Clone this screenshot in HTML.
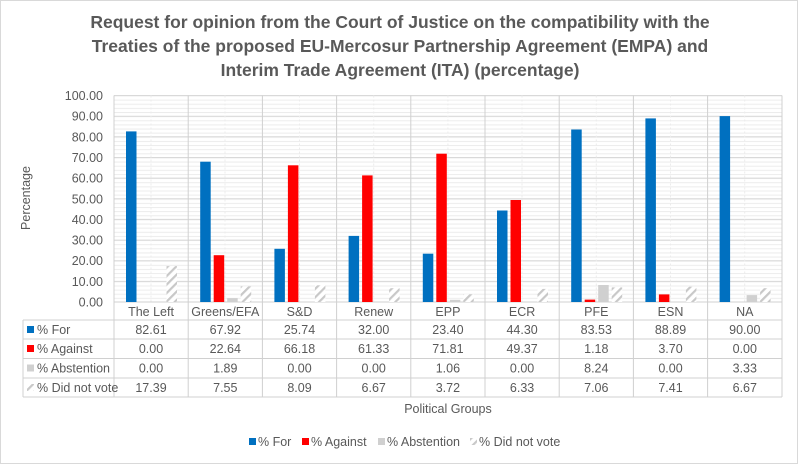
<!DOCTYPE html>
<html><head><meta charset="utf-8"><style>
html,body{margin:0;padding:0;background:#fff}
svg{display:block;font-family:"Liberation Sans",sans-serif}
</style></head><body>
<svg width="798" height="464" viewBox="0 0 798 464" xmlns="http://www.w3.org/2000/svg">
<defs>
<pattern id="h" width="6" height="6" patternUnits="userSpaceOnUse" patternTransform="rotate(45)">
<rect width="6" height="6" fill="#fff"/><rect width="2.2" height="6" fill="#c8c8c8"/>
</pattern>
<pattern id="minor" width="10" height="4.13" patternUnits="userSpaceOnUse" y="95.5">
<line x1="0" y1="0.5" x2="10" y2="0.5" stroke="#ececec" stroke-width="1"/>
</pattern>
</defs>
<rect x="0.5" y="0.5" width="797" height="463" fill="#fff" stroke="#d9d9d9"/>
<g font-weight="bold" font-size="17.5" fill="#595959" text-anchor="middle">
<text x="400" y="28">Request for opinion from the Court of Justice on the compatibility with the</text>
<text x="400" y="52">Treaties of the proposed EU-Mercosur Partnership Agreement (EMPA) and</text>
<text x="400" y="76">Interim Trade Agreement (ITA) (percentage)</text>
</g>
<rect x="114" y="95.5" width="668" height="206.5" fill="url(#minor)"/>
<g stroke="#d9d9d9" stroke-width="1">
<line x1="114" y1="95.5" x2="782" y2="95.5"/>
<line x1="114" y1="116.2" x2="782" y2="116.2"/>
<line x1="114" y1="136.8" x2="782" y2="136.8"/>
<line x1="114" y1="157.5" x2="782" y2="157.5"/>
<line x1="114" y1="178.1" x2="782" y2="178.1"/>
<line x1="114" y1="198.8" x2="782" y2="198.8"/>
<line x1="114" y1="219.4" x2="782" y2="219.4"/>
<line x1="114" y1="240.1" x2="782" y2="240.1"/>
<line x1="114" y1="260.7" x2="782" y2="260.7"/>
<line x1="114" y1="281.4" x2="782" y2="281.4"/>
</g>
<g stroke="#ececec" stroke-dasharray="2,2">
<line x1="151" y1="95.5" x2="151" y2="302"/><line x1="225" y1="95.5" x2="225" y2="302"/>
<line x1="299.5" y1="95.5" x2="299.5" y2="302"/><line x1="373.7" y1="95.5" x2="373.7" y2="302"/>
<line x1="447.9" y1="95.5" x2="447.9" y2="302"/><line x1="522" y1="95.5" x2="522" y2="302"/>
<line x1="596.3" y1="95.5" x2="596.3" y2="302"/><line x1="670.5" y1="95.5" x2="670.5" y2="302"/>
<line x1="744.7" y1="95.5" x2="744.7" y2="302"/>
</g>
<!-- table grid -->
<g stroke="#d0d0d0" stroke-width="1" fill="none">
<line x1="114" y1="95.5" x2="114" y2="397"/>
<line x1="188.2" y1="95.5" x2="188.2" y2="397"/>
<line x1="262.4" y1="95.5" x2="262.4" y2="397"/>
<line x1="336.6" y1="95.5" x2="336.6" y2="397"/>
<line x1="410.8" y1="95.5" x2="410.8" y2="397"/>
<line x1="485" y1="95.5" x2="485" y2="397"/>
<line x1="559.2" y1="95.5" x2="559.2" y2="397"/>
<line x1="633.4" y1="95.5" x2="633.4" y2="397"/>
<line x1="707.6" y1="95.5" x2="707.6" y2="397"/>
<line x1="782" y1="95.5" x2="782" y2="397"/>
<line x1="23" y1="320" x2="23" y2="397"/>
<line x1="114" y1="302" x2="782" y2="302"/>
<line x1="23" y1="320" x2="782" y2="320"/>
<line x1="23" y1="339" x2="782" y2="339"/>
<line x1="23" y1="358.5" x2="782" y2="358.5"/>
<line x1="23" y1="378" x2="782" y2="378"/>
<line x1="23" y1="397" x2="782" y2="397"/>
</g>
<!-- bars -->
<g fill="#0070c0">
<rect x="126" y="131.4" width="10.5" height="170.6"/>
<rect x="200.2" y="161.7" width="10.5" height="140.3"/>
<rect x="274.4" y="248.8" width="10.5" height="53.2"/>
<rect x="348.6" y="235.9" width="10.5" height="66.1"/>
<rect x="422.8" y="253.7" width="10.5" height="48.3"/>
<rect x="497" y="210.5" width="10.5" height="91.5"/>
<rect x="571.2" y="129.5" width="10.5" height="172.5"/>
<rect x="645.4" y="118.4" width="10.5" height="183.6"/>
<rect x="719.6" y="116.1" width="10.5" height="185.9"/>
</g>
<g fill="#ff0000">
<rect x="213.7" y="255.2" width="10.5" height="46.8"/>
<rect x="287.9" y="165.3" width="10.5" height="136.7"/>
<rect x="362.1" y="175.4" width="10.5" height="126.6"/>
<rect x="436.3" y="153.7" width="10.5" height="148.3"/>
<rect x="510.5" y="200" width="10.5" height="102"/>
<rect x="584.7" y="299.6" width="10.5" height="2.4"/>
<rect x="658.9" y="294.4" width="10.5" height="7.6"/>
</g>
<g fill="#d0d0d0">
<rect x="227.2" y="298.1" width="10.5" height="3.9"/>
<rect x="449.8" y="299.8" width="10.5" height="2.2"/>
<rect x="598.2" y="285" width="10.5" height="17"/>
<rect x="746.6" y="295.1" width="10.5" height="6.9"/>
</g>
<g fill="url(#h)">
<rect x="166.5" y="266.1" width="10.5" height="35.9"/>
<rect x="240.7" y="286.4" width="10.5" height="15.6"/>
<rect x="314.9" y="285.3" width="10.5" height="16.7"/>
<rect x="389.1" y="288.2" width="10.5" height="13.8"/>
<rect x="463.3" y="294.3" width="10.5" height="7.7"/>
<rect x="537.5" y="288.9" width="10.5" height="13.1"/>
<rect x="611.7" y="287.4" width="10.5" height="14.6"/>
<rect x="685.9" y="286.7" width="10.5" height="15.3"/>
<rect x="760.1" y="288.2" width="10.5" height="13.8"/>
</g>
<!-- y ticks -->
<g font-size="12.5" fill="#595959" text-anchor="end">
<text x="103" y="100">100.00</text><text x="103" y="120.7">90.00</text>
<text x="103" y="141.3">80.00</text><text x="103" y="162">70.00</text>
<text x="103" y="182.6">60.00</text><text x="103" y="203.3">50.00</text>
<text x="103" y="223.9">40.00</text><text x="103" y="244.6">30.00</text>
<text x="103" y="265.2">20.00</text><text x="103" y="285.9">10.00</text>
<text x="103" y="306.5">0.00</text>
</g>
<text transform="translate(30,198) rotate(-90)" font-size="12.5" fill="#595959" text-anchor="middle">Percentage</text>
<!-- table text -->
<g font-size="12.5" fill="#595959" text-anchor="middle">
<text x="151" y="316">The Left</text><text x="225.3" y="316">Greens/EFA</text><text x="299.5" y="316">S&amp;D</text><text x="373.7" y="316">Renew</text><text x="447.9" y="316">EPP</text><text x="522.1" y="316">ECR</text><text x="596.3" y="316">PFE</text><text x="670.5" y="316">ESN</text><text x="744.8" y="316">NA</text>
<text x="151" y="334">82.61</text><text x="225.3" y="334">67.92</text><text x="299.5" y="334">25.74</text><text x="373.7" y="334">32.00</text><text x="447.9" y="334">23.40</text><text x="522.1" y="334">44.30</text><text x="596.3" y="334">83.53</text><text x="670.5" y="334">88.89</text><text x="744.8" y="334">90.00</text>
<text x="151" y="353">0.00</text><text x="225.3" y="353">22.64</text><text x="299.5" y="353">66.18</text><text x="373.7" y="353">61.33</text><text x="447.9" y="353">71.81</text><text x="522.1" y="353">49.37</text><text x="596.3" y="353">1.18</text><text x="670.5" y="353">3.70</text><text x="744.8" y="353">0.00</text>
<text x="151" y="372.5">0.00</text><text x="225.3" y="372.5">1.89</text><text x="299.5" y="372.5">0.00</text><text x="373.7" y="372.5">0.00</text><text x="447.9" y="372.5">1.06</text><text x="522.1" y="372.5">0.00</text><text x="596.3" y="372.5">8.24</text><text x="670.5" y="372.5">0.00</text><text x="744.8" y="372.5">3.33</text>
<text x="151" y="392">17.39</text><text x="225.3" y="392">7.55</text><text x="299.5" y="392">8.09</text><text x="373.7" y="392">6.67</text><text x="447.9" y="392">3.72</text><text x="522.1" y="392">6.33</text><text x="596.3" y="392">7.06</text><text x="670.5" y="392">7.41</text><text x="744.8" y="392">6.67</text>
</g>
<g font-size="12.5" fill="#595959">
<rect x="27" y="326" width="7" height="7" fill="#0070c0"/><text x="37" y="334">% For</text>
<rect x="27" y="345" width="7" height="7" fill="#ff0000"/><text x="37" y="353">% Against</text>
<rect x="27" y="364.5" width="7" height="7" fill="#d0d0d0"/><text x="37" y="372.5">% Abstention</text>
<rect x="27" y="384" width="7" height="7" fill="url(#h)"/><text x="37" y="392">% Did not vote</text>
</g>
<text x="448" y="413" font-size="12.5" fill="#595959" text-anchor="middle">Political Groups</text>
<g font-size="12.5" fill="#595959">
<rect x="249" y="438" width="7" height="7" fill="#0070c0"/><text x="258" y="446">% For</text>
<rect x="302" y="438" width="7" height="7" fill="#ff0000"/><text x="311" y="446">% Against</text>
<rect x="378" y="438" width="7" height="7" fill="#d0d0d0"/><text x="387" y="446">% Abstention</text>
<rect x="470" y="438" width="7" height="7" fill="url(#h)"/><text x="479" y="446">% Did not vote</text>
</g>
</svg>
</body></html>
